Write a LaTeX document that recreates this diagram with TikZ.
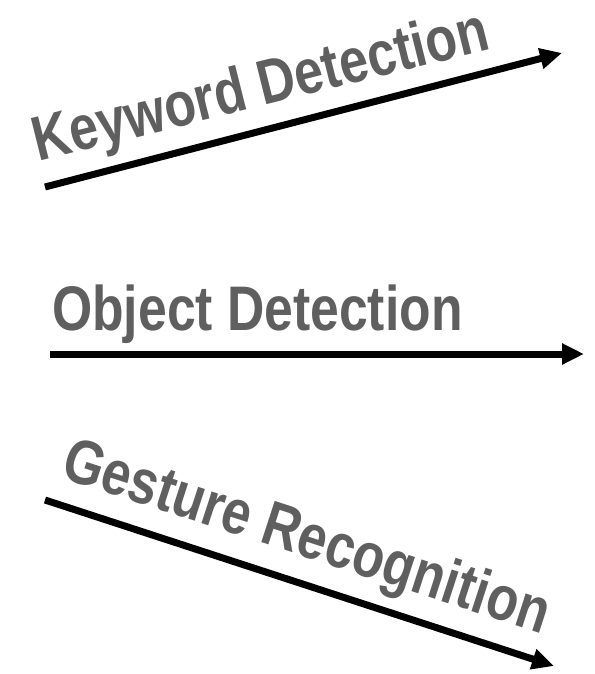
\documentclass[tikz,border=0pt]{standalone}
\usepackage{fontspec}
\setmainfont{Liberation Sans}
\usetikzlibrary{arrows.meta}
\definecolor{labelgray}{HTML}{5F5F5F}
\tikzset{
  flow/.style={line width=7pt,-{Triangle[length=22pt,width=20pt]}},
  lbl/.style={anchor=base west,inner sep=0pt,text=labelgray,font=\bfseries\fontsize{63}{63}\selectfont}
}
\newcommand{\narrowtxt}[1]{\scalebox{0.82}[1]{#1}}
\begin{document}
\begin{tikzpicture}[x=1pt,y=-1pt]
\useasboundingbox (0,0) rectangle (594,674);
\coordinate (a1s) at (45,187);
\coordinate (a1e) at (562,53);
\coordinate (a2s) at (50,354);
\coordinate (a2e) at (584,354);
\coordinate (a3s) at (45,500);
\coordinate (a3e) at (554,666);
\draw[flow] (a1s) -- (a1e);
\draw[flow] (a2s) -- (a2e);
\draw[flow] (a3s) -- (a3e);
\node[lbl,rotate=14] (t1) at (38,162) {\narrowtxt{Keyword Detection}};
\node[lbl] (t2) at (52,330) {\narrowtxt{Object Detection}};
\node[lbl,rotate=-18] (t3) at (59,477) {\narrowtxt{Gesture Recognition}};
\end{tikzpicture}
\end{document}
